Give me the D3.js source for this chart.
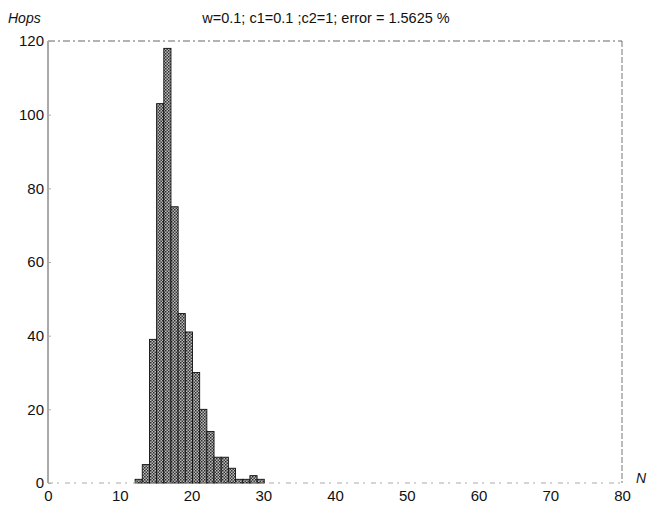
<!DOCTYPE html>
<meta charset="utf-8">
<html>
<head>
<script src="https://cdn.jsdelivr.net/npm/d3@7"></script>
<style>
body { margin: 0; background: #fff; }
text { font-family: "Liberation Sans", Arial, sans-serif; fill: #111; }
</style>
</head>
<body>
<script>
// histogram bins (left edge of each unit-wide bin) and the counts
var binStart = [12, 13, 14, 15, 16, 17, 18, 19, 20, 21, 22, 23, 24, 25, 26, 27, 28, 29];
var counts   = [1, 5, 39, 103, 118, 75, 46, 41, 30, 20, 14, 7, 7, 4, 1, 1, 2, 1];
var xTicks = [0, 10, 20, 30, 40, 50, 60, 70, 80];
var yTicks = [0, 20, 40, 60, 80, 100, 120];
var title = "w=0.1; c1=0.1 ;c2=1; error = 1.5625 %";

var W = 650, H = 506;
var margin = {top: 41, right: 28, bottom: 23, left: 48},
    width = W - margin.left - margin.right,
    height = H - margin.top - margin.bottom;

var svg = d3.select("body").append("svg")
    .attr("width", W)
    .attr("height", H);

// stipple fill like the printed halftone
var defs = svg.append("defs");
var pat = defs.append("pattern")
    .attr("id", "hatch")
    .attr("patternUnits", "userSpaceOnUse")
    .attr("width", 3).attr("height", 3);
pat.append("rect").attr("width", 3).attr("height", 3).attr("fill", "#bdbdbd");
pat.append("rect").attr("width", 1.5).attr("height", 1.5).attr("fill", "#2a2a2a");
pat.append("rect").attr("x", 1.5).attr("y", 1.5).attr("width", 1.5).attr("height", 1.5).attr("fill", "#3a3a3a");

var x = d3.scaleLinear().domain([0, 80]).range([0, width]);
var y = d3.scaleLinear().domain([0, 120]).range([height, 0]);

var g = svg.append("g")
    .attr("transform", "translate(" + margin.left + "," + margin.top + ")");

var bins = binStart.map(function(d, i) { return {x0: d, x1: d + 1, n: counts[i]}; });

g.selectAll("rect.bar")
  .data(bins)
  .enter().append("rect")
    .attr("class", "bar")
    .attr("x", function(d) { return x(d.x0) + 1; })
    .attr("y", function(d) { return y(d.n); })
    .attr("width", function(d) { return x(d.x1) - x(d.x0); })
    .attr("height", function(d) { return height - y(d.n); })
    .attr("fill", "url(#hatch)")
    .attr("stroke", "#111")
    .attr("stroke-width", 0.9);

// frame (faint, scanned look)
g.append("line").attr("x1", 0).attr("x2", 0).attr("y1", 0).attr("y2", height)
  .attr("stroke", "#555").attr("stroke-width", 1);
g.append("line").attr("x1", width).attr("x2", width).attr("y1", 0).attr("y2", height)
  .attr("stroke", "#777").attr("stroke-width", 1).attr("stroke-dasharray", "6,2");
g.append("line").attr("x1", 0).attr("x2", width).attr("y1", 0).attr("y2", 0)
  .attr("stroke", "#666").attr("stroke-width", 1).attr("stroke-dasharray", "7,3,2,3");
g.append("line").attr("x1", 0).attr("x2", width).attr("y1", height).attr("y2", height)
  .attr("stroke", "#aaa").attr("stroke-width", 1).attr("stroke-dasharray", "5,4,2,6");

var xAxis = g.append("g")
    .attr("transform", "translate(0," + height + ")")
    .call(d3.axisBottom(x).tickValues(xTicks).tickSize(0).tickPadding(8));
xAxis.select(".domain").remove();
xAxis.selectAll("text").style("font-size", "15px").attr("dy", "0.8em").attr("y", 6);

var yAxis = g.append("g")
    .call(d3.axisLeft(y).tickValues(yTicks).tickSize(3).tickPadding(4));
yAxis.select(".domain").remove();
yAxis.selectAll("line").attr("x2", 3).attr("stroke", "#aaa");
yAxis.selectAll("text").style("font-size", "15px").attr("x", -4);

svg.append("text")
    .attr("x", 8).attr("y", 23)
    .style("font-size", "14px").style("font-style", "italic")
    .text("Hops");

svg.append("text")
    .attr("x", 326).attr("y", 23)
    .attr("text-anchor", "middle")
    .style("font-size", "14.5px")
    .text(title);

svg.append("text")
    .attr("x", 636).attr("y", 483)
    .style("font-size", "14px").style("font-style", "italic")
    .text("N");
</script>
</body>
</html>
